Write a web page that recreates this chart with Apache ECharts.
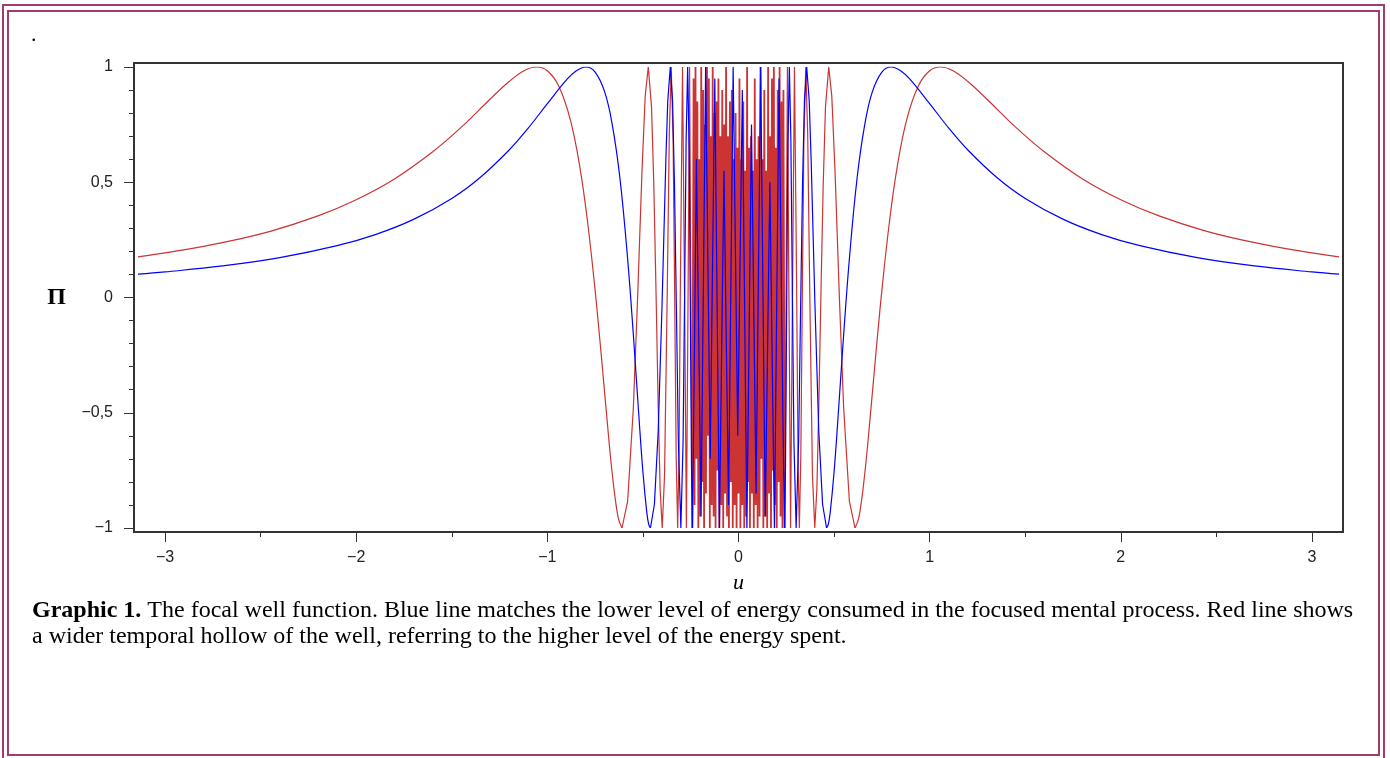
<!DOCTYPE html>
<html lang="en">
<head>
  <meta charset="UTF-8">
  <title>Graphic 1</title>
  <script src="https://cdn.jsdelivr.net/npm/echarts@6/dist/echarts.min.js"></script>
  <style>
    html, body { margin: 0; padding: 0; background: #fff; }
    .frame { position: absolute; border: 2px solid #a33a70; box-sizing: border-box; }
    #outer { left: 2px; top: 4px; width: 1383px; height: 760px; }
    #inner { left: 7px; top: 10px; width: 1373px; height: 746px; }
    #app { position: absolute; left: 0; top: 0; width: 1390px; height: 758px; }
  </style>
</head>
<body>
  <div id="outer" class="frame"></div>
  <div id="inner" class="frame"></div>
  <div id="app"></div>
  <script>
    // tick positions and labels
    var xTicks = [-3, -2, -1, 0, 1, 2, 3]
    var xTickLabels = ['−3', '−2', '−1', '0', '1', '2', '3']
    var xMinorTicks = [-2.5, -1.5, -0.5, 0.5, 1.5, 2.5]
    var yTicks = [-1, -0.5, 0, 0.5, 1]
    var yTickLabels = ['−1', '−0,5', '0', '0,5', '1']

    // blue curve, right half (the picture is symmetric about u = 0)
    var uBlueTail = [0.4607, 0.47, 0.48, 0.50, 0.52, 0.55, 0.58, 0.62, 0.66, 0.70, 0.75, 0.798, 0.85, 0.90, 1.0, 1.1, 1.2, 1.35, 1.5, 1.7, 1.9, 2.1, 2.4, 2.7, 3.0, 3.1416]
    var blueTail = [-1, -0.983, -0.931, -0.757, -0.529, -0.163, 0.167, 0.515, 0.748, 0.892, 0.978, 1, 0.983, 0.944, 0.841, 0.735, 0.640, 0.522, 0.430, 0.339, 0.273, 0.225, 0.173, 0.137, 0.111, 0.101]
    var uBlueCore = [0.2406, 0.246, 0.252, 0.258, 0.266, 0.274, 0.282, 0.29, 0.3016, 0.315, 0.325, 0.335, 0.345, 0.3568, 0.37, 0.38, 0.40, 0.42, 0.44, 0.4607]
    var blueCore = [-1, -0.727, -0.04, 0.635, 1, 0.685, 0.009, -0.627, -1, -0.608, -0.042, 0.491, 0.853, 1, 0.853, 0.599, -0.033, -0.579, -0.898, -1]
    // blue, aliased middle part (both sides)
    var uBlueMid = [-0.22, -0.196, -0.172, -0.148, -0.124, -0.1, -0.076, -0.052, -0.028, -0.004, 0.02, 0.044, 0.068, 0.092, 0.116, 0.14, 0.164, 0.188, 0.212, 0.232]
    var blueMid = [0.6, -0.95, 1, -0.7, 0.95, -1, 0.55, -0.9, 1, -0.6, 0.9, -1, 0.75, -0.85, 1, -0.95, 0.5, -1, 0.95, -0.5]

    // red curve, right half
    var uRedTail = [0.6095, 0.63, 0.66, 0.69, 0.72, 0.75, 0.79, 0.83, 0.88, 0.94, 1.0, 1.0556, 1.12, 1.2, 1.3, 1.45, 1.6, 1.8, 2.0, 2.2, 2.45, 2.7, 2.95, 3.1416]
    var redTail = [-1, -0.954, -0.768, -0.509, -0.232, 0.030, 0.331, 0.566, 0.772, 0.917, 0.984, 1, 0.985, 0.937, 0.860, 0.739, 0.632, 0.514, 0.424, 0.354, 0.287, 0.238, 0.200, 0.176]
    var uRedCore = [0.2421, 0.2488, 0.256, 0.2639, 0.2725, 0.2821, 0.2928, 0.3047, 0.311, 0.3183, 0.326, 0.3338, 0.342, 0.3519, 0.362, 0.3732, 0.387, 0.399, 0.41, 0.42, 0.4309, 0.443, 0.455, 0.472, 0.488, 0.505, 0.5278, 0.55, 0.58, 0.6095]
    var redCore = [-1, 0, 1, 0, -1, 0, 1, 0, -0.684, -1, -0.690, 0, 0.680, 1, 0.708, 0, -0.773, -1, -0.831, -0.476, 0, 0.485, 0.826, 1, 0.875, 0.547, 0, -0.477, -0.883, -1]
    // red, dense middle part (both sides)
    var uRedMid = [
      -0.235, -0.23, -0.225, -0.22, -0.215, -0.21, -0.205, -0.2, -0.195, -0.19,
      -0.185, -0.18, -0.175, -0.17, -0.165, -0.16, -0.155, -0.15, -0.145, -0.14,
      -0.135, -0.13, -0.125, -0.12, -0.115, -0.11, -0.105, -0.1, -0.095, -0.09,
      -0.085, -0.08, -0.075, -0.07, -0.065, -0.06, -0.055, -0.05, -0.045, -0.04,
      -0.035, -0.03, -0.025, -0.02, -0.015, -0.01, -0.005, 0, 0.005, 0.01,
      0.015, 0.02, 0.025, 0.03, 0.035, 0.04, 0.045, 0.05, 0.055, 0.06,
      0.065, 0.07, 0.075, 0.08, 0.085, 0.09, 0.095, 0.1, 0.105, 0.11,
      0.115, 0.12, 0.125, 0.13, 0.135, 0.14, 0.145, 0.15, 0.155, 0.16,
      0.165, 0.17, 0.175, 0.18, 0.185, 0.19, 0.195, 0.2, 0.205, 0.21,
      0.215, 0.22, 0.225, 0.23, 0.235
    ]
    var redMid = [
      0.95, -0.9, 1, -0.7, 0.85, -1, 0.6, -0.95, 1, -0.8,
      0.9, -1, 0.75, -0.85, 1, -0.6, 0.95, -1, 0.7, -0.9,
      1, -0.95, 0.8, -1, 0.85, -0.75, 0.95, -1, 0.7, -0.9,
      0.9, -1, 0.75, -0.85, 1, -0.95, 0.7, -1, 0.85, -0.8,
      0.9, -1, 0.6, -0.9, 0.8, -1, 0.65, -0.85, 0.95, -1,
      0.6, -0.9, 0.85, -1, 0.55, -0.95, 1, -0.8, 0.65, -1,
      0.7, -0.85, 0.55, -1, 0.95, -0.9, 0.6, -1, 0.7, -0.95,
      1, -0.7, 0.6, -1, 0.9, -0.95, 0.55, -1, 1, -0.85,
      0.7, -1, 0.95, -0.75, 1, -0.9, 0.65, -1, 0.9, -0.8,
      1, -0.95, 0.85, -1, 0.9
    ]

    var captionTitle = 'Graphic 1.'
    var captionLine1 = ' The focal well function. Blue line matches the lower level of energy consumed in the focused mental process. Red line shows'
    var captionLine2 = 'a wider temporal hollow of the well, referring to the higher level of the energy spent.'

    function pairs(us, vs) {
      var out = []
      for (var i = 0; i < us.length; i++) out.push([us[i], vs[i]])
      return out
    }
    function mirror(us, vs) {
      var out = []
      for (var i = us.length - 1; i >= 0; i--) out.push([-us[i], vs[i]])
      return out
    }

    var RED = '#cc3333'
    var BLUE = '#0000ff'
    var tickColor = '#333'
    var labelFont = 'Liberation Sans'

    function lineSeries(data, color, smooth, width) {
      return {
        type: 'line', xAxisIndex: 0, yAxisIndex: 0,
        data: data, showSymbol: false, smooth: smooth,
        lineStyle: { color: color, width: width },
        itemStyle: { color: color },
        silent: true
      }
    }

    // the dense red middle is drawn a bit heavier, joined to both resolved parts
    var redLeft = mirror(uRedCore, redCore)
    var redRight = pairs(uRedCore, redCore)
    var redMidData = [redLeft[redLeft.length - 1]].concat(pairs(uRedMid, redMid), [redRight[0]])

    var app = document.querySelector('#app')
    var mCharts = echarts.init(app)
    var option = {
      animation: false,
      grid: [
        { left: 138, top: 67, width: 1201, height: 461 },
        { left: 134, top: 63, width: 1209, height: 469, show: true, borderColor: '#333', borderWidth: 2 }
      ],
      xAxis: [
        {
          type: 'value', gridIndex: 0, position: 'bottom',
          min: -3.14159, max: 3.14159, offset: 4,
          axisLine: { show: false, onZero: false },
          axisTick: { show: true, length: 10, customValues: xTicks, lineStyle: { color: tickColor } },
          axisLabel: {
            customValues: xTicks, margin: 18, fontSize: 16, fontFamily: labelFont, color: '#222',
            formatter: function (v) { return xTickLabels[xTicks.indexOf(v)] }
          },
          splitLine: { show: false },
          name: 'u', nameLocation: 'middle', nameGap: 40,
          nameTextStyle: { fontFamily: 'Liberation Serif', fontStyle: 'italic', fontSize: 22, color: '#000' }
        },
        {
          type: 'value', gridIndex: 0, position: 'bottom',
          min: -3.14159, max: 3.14159, offset: 4,
          axisLine: { show: false, onZero: false },
          axisTick: { show: true, length: 5, customValues: xMinorTicks, lineStyle: { color: tickColor } },
          axisLabel: { show: false },
          splitLine: { show: false }
        },
        { type: 'value', gridIndex: 1, show: false, min: 0, max: 1 }
      ],
      yAxis: [
        {
          type: 'value', gridIndex: 0, position: 'left', min: -1, max: 1, interval: 0.5, offset: 4,
          axisLine: { show: false, onZero: false },
          axisTick: { show: true, length: 10, lineStyle: { color: tickColor } },
          minorTick: { show: true, splitNumber: 5, length: 5, lineStyle: { color: tickColor } },
          axisLabel: {
            margin: 21, fontSize: 16, fontFamily: labelFont, color: '#222',
            formatter: function (v) { return yTickLabels[yTicks.indexOf(v)] }
          },
          splitLine: { show: false },
          name: 'Π', nameLocation: 'middle', nameRotate: 0, nameGap: 68,
          nameTextStyle: { fontFamily: 'Liberation Serif', fontWeight: 'bold', fontSize: 24, color: '#000' }
        },
        { type: 'value', gridIndex: 1, show: false, min: 0, max: 1 }
      ],
      graphic: [
        {
          type: 'text', left: 31, top: 24,
          style: { text: '.', fontSize: 22, fontFamily: 'Liberation Serif', fill: '#000' }
        },
        {
          type: 'text', left: 32, top: 598,
          style: {
            text: '{b|' + captionTitle + '}' + captionLine1 + '\n' + captionLine2,
            fontSize: 24, fontFamily: 'Liberation Serif', fill: '#000', lineHeight: 26,
            rich: {
              b: { fontSize: 24, fontFamily: 'Liberation Serif', fontWeight: 'bold', fill: '#000', lineHeight: 26 }
            }
          }
        }
      ],
      series: [
        lineSeries(mirror(uRedTail, redTail), RED, 0.4, 1.2),
        lineSeries(pairs(uRedTail, redTail), RED, 0.4, 1.2),
        lineSeries(redLeft, RED, false, 1.2),
        lineSeries(redMidData, RED, false, 1.8),
        lineSeries(redRight, RED, false, 1.2),
        lineSeries(mirror(uBlueTail, blueTail), BLUE, 0.4, 1.2),
        lineSeries(pairs(uBlueTail, blueTail), BLUE, 0.4, 1.2),
        lineSeries(mirror(uBlueCore, blueCore).concat(pairs(uBlueMid, blueMid), pairs(uBlueCore, blueCore)), BLUE, false, 1.2)
      ]
    }
    mCharts.setOption(option)
  </script>
</body>
</html>
